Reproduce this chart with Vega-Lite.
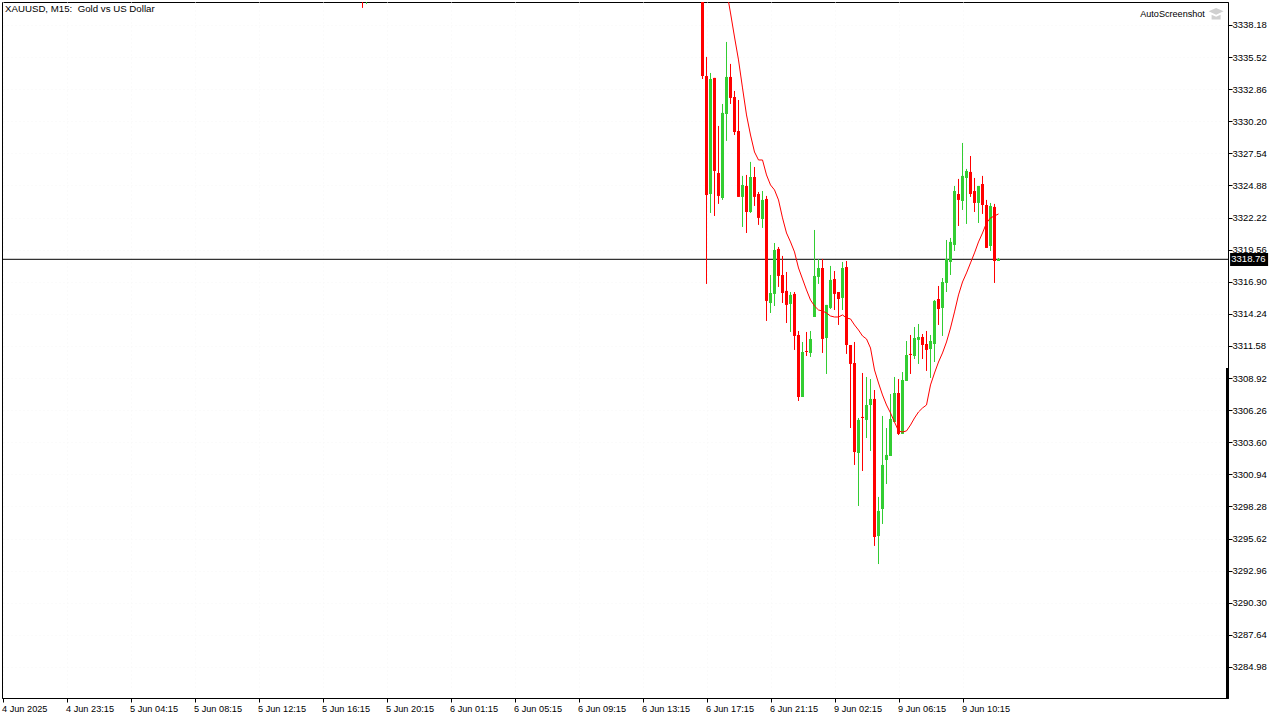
{
  "$schema": "https://vega.github.io/schema/vega-lite/v6.json",
  "width": 1226,
  "height": 696,
  "autosize": "none",
  "padding": {"left": 2, "top": 2, "right": 52, "bottom": 22},
  "background": "white",
  "config": {"view": {"stroke": "black", "strokeWidth": 1}, "font": "Liberation Sans"},
  "datasets": {
    "candles": [
      {"i":90,"open":3341.6,"high":3342,"low":3339.59,"close":3341.0},
      {"i":91,"open":3341.0,"high":3342,"low":3339.92,"close":3341.5},
      {"i":175,"open":3341.91,"high":3342.5,"low":3333.70,"close":3333.95},
      {"i":176,"open":3333.95,"high":3335.53,"low":3316.72,"close":3324.09},
      {"i":177,"open":3324.17,"high":3334.20,"low":3322.60,"close":3333.70},
      {"i":178,"open":3333.79,"high":3333.79,"low":3322.35,"close":3326.08},
      {"i":179,"open":3325.91,"high":3329.81,"low":3323.35,"close":3324.01},
      {"i":180,"open":3323.84,"high":3331.63,"low":3323.68,"close":3330.89},
      {"i":181,"open":3330.80,"high":3336.77,"low":3328.57,"close":3333.87},
      {"i":182,"open":3333.87,"high":3334.95,"low":3331.63,"close":3332.13},
      {"i":183,"open":3332.21,"high":3332.71,"low":3329.06,"close":3329.31},
      {"i":184,"open":3329.39,"high":3331.96,"low":3323.93,"close":3323.93},
      {"i":185,"open":3323.93,"high":3325.67,"low":3321.44,"close":3324.92},
      {"i":186,"open":3324.84,"high":3325.75,"low":3320.94,"close":3322.68},
      {"i":187,"open":3322.68,"high":3326.83,"low":3322.60,"close":3325.58},
      {"i":188,"open":3325.58,"high":3326.41,"low":3323.18,"close":3323.93},
      {"i":189,"open":3324.17,"high":3324.34,"low":3321.61,"close":3322.19},
      {"i":190,"open":3322.10,"high":3324.42,"low":3321.36,"close":3323.68},
      {"i":191,"open":3323.76,"high":3324.01,"low":3313.65,"close":3315.31},
      {"i":192,"open":3315.14,"high":3317.46,"low":3314.31,"close":3315.97},
      {"i":193,"open":3315.89,"high":3320.11,"low":3314.89,"close":3319.53},
      {"i":194,"open":3319.62,"high":3319.78,"low":3316.47,"close":3317.38},
      {"i":195,"open":3317.46,"high":3319.04,"low":3315.14,"close":3315.97},
      {"i":196,"open":3316.14,"high":3317.71,"low":3313.48,"close":3314.98},
      {"i":197,"open":3315.06,"high":3316.05,"low":3312.74,"close":3315.81},
      {"i":198,"open":3315.89,"high":3316.05,"low":3311.25,"close":3312.41},
      {"i":199,"open":3312.49,"high":3312.82,"low":3307.02,"close":3307.35},
      {"i":200,"open":3307.35,"high":3311.91,"low":3307.35,"close":3311.08},
      {"i":201,"open":3311.16,"high":3312.74,"low":3310.75,"close":3311.08},
      {"i":202,"open":3311.00,"high":3312.82,"low":3310.67,"close":3312.16},
      {"i":203,"open":3313.98,"high":3321.19,"low":3313.98,"close":3317.38},
      {"i":204,"open":3317.30,"high":3318.79,"low":3316.72,"close":3318.04},
      {"i":205,"open":3318.04,"high":3318.79,"low":3311.00,"close":3312.16},
      {"i":206,"open":3312.24,"high":3314.98,"low":3309.26,"close":3314.98},
      {"i":207,"open":3314.73,"high":3318.21,"low":3314.64,"close":3317.05},
      {"i":208,"open":3317.13,"high":3317.79,"low":3314.56,"close":3315.89},
      {"i":209,"open":3316.05,"high":3316.05,"low":3313.32,"close":3315.47},
      {"i":210,"open":3315.56,"high":3318.54,"low":3314.56,"close":3318.04},
      {"i":211,"open":3318.12,"high":3318.62,"low":3310.92,"close":3311.66},
      {"i":212,"open":3311.66,"high":3311.66,"low":3304.78,"close":3310.09},
      {"i":213,"open":3310.17,"high":3311.91,"low":3301.72,"close":3302.79},
      {"i":214,"open":3302.71,"high":3305.61,"low":3298.32,"close":3305.45},
      {"i":215,"open":3305.70,"high":3309.34,"low":3301.22,"close":3305.61},
      {"i":216,"open":3305.45,"high":3309.01,"low":3303.95,"close":3306.69},
      {"i":217,"open":3306.69,"high":3308.84,"low":3302.88,"close":3307.19},
      {"i":218,"open":3307.19,"high":3307.93,"low":3295.01,"close":3295.75},
      {"i":219,"open":3295.83,"high":3299.07,"low":3293.51,"close":3297.91},
      {"i":220,"open":3298.07,"high":3305.78,"low":3296.83,"close":3301.72},
      {"i":221,"open":3302.13,"high":3304.78,"low":3300.14,"close":3302.55},
      {"i":222,"open":3302.46,"high":3307.60,"low":3302.46,"close":3305.53},
      {"i":223,"open":3305.28,"high":3309.01,"low":3305.28,"close":3307.68},
      {"i":224,"open":3307.68,"high":3308.84,"low":3304.20,"close":3304.29},
      {"i":225,"open":3304.29,"high":3309.42,"low":3304.29,"close":3308.76},
      {"i":226,"open":3308.68,"high":3311.99,"low":3308.68,"close":3310.83},
      {"i":227,"open":3310.92,"high":3312.49,"low":3309.26,"close":3310.83},
      {"i":228,"open":3310.75,"high":3313.15,"low":3310.50,"close":3312.24},
      {"i":229,"open":3312.08,"high":3313.40,"low":3310.09,"close":3312.32},
      {"i":230,"open":3312.32,"high":3312.57,"low":3310.50,"close":3311.66},
      {"i":231,"open":3311.74,"high":3312.82,"low":3309.51,"close":3311.25},
      {"i":232,"open":3311.33,"high":3312.49,"low":3308.93,"close":3311.99},
      {"i":233,"open":3311.74,"high":3315.39,"low":3310.25,"close":3315.31},
      {"i":234,"open":3315.47,"high":3316.55,"low":3313.32,"close":3314.64},
      {"i":235,"open":3314.73,"high":3317.21,"low":3312.41,"close":3316.88},
      {"i":236,"open":3316.80,"high":3320.36,"low":3316.05,"close":3318.79},
      {"i":237,"open":3318.54,"high":3320.53,"low":3317.46,"close":3320.20},
      {"i":238,"open":3319.95,"high":3324.84,"low":3319.45,"close":3324.42},
      {"i":239,"open":3324.17,"high":3325.42,"low":3321.52,"close":3323.68},
      {"i":240,"open":3323.59,"high":3328.40,"low":3322.85,"close":3325.67},
      {"i":241,"open":3325.50,"high":3326.25,"low":3321.69,"close":3326.08},
      {"i":242,"open":3326.00,"high":3327.32,"low":3323.93,"close":3324.17},
      {"i":243,"open":3324.42,"high":3325.50,"low":3322.68,"close":3323.43},
      {"i":244,"open":3323.43,"high":3324.84,"low":3321.77,"close":3324.84},
      {"i":245,"open":3325.00,"high":3325.67,"low":3322.52,"close":3323.26},
      {"i":246,"open":3323.26,"high":3323.68,"low":3319.70,"close":3319.70},
      {"i":247,"open":3319.86,"high":3323.43,"low":3319.45,"close":3323.18},
      {"i":248,"open":3323.10,"high":3323.35,"low":3316.80,"close":3318.62},
      {"i":249,"open":3318.62,"high":3318.87,"low":3318.62,"close":3318.79}
    ],
    "ma": [
      {"i":181,"ma":3341.08},{"i":182,"ma":3339.17},{"i":183,"ma":3337.18},{"i":184,"ma":3335.28},
      {"i":185,"ma":3332.96},{"i":186,"ma":3330.72},{"i":187,"ma":3329.06},{"i":188,"ma":3327.65},
      {"i":189,"ma":3326.99},{"i":190,"ma":3326.99},{"i":191,"ma":3325.75},{"i":192,"ma":3324.92},
      {"i":193,"ma":3324.51},{"i":194,"ma":3323.68},{"i":195,"ma":3322.19},{"i":196,"ma":3320.94},
      {"i":197,"ma":3320.20},{"i":198,"ma":3319.37},{"i":199,"ma":3318.04},{"i":200,"ma":3317.13},
      {"i":201,"ma":3316.22},{"i":202,"ma":3315.39},{"i":203,"ma":3314.89},{"i":204,"ma":3314.56},
      {"i":205,"ma":3314.48},{"i":206,"ma":3314.31},{"i":207,"ma":3314.06},{"i":208,"ma":3313.98},
      {"i":209,"ma":3313.98},{"i":210,"ma":3314.15},{"i":211,"ma":3313.90},{"i":212,"ma":3313.82},
      {"i":213,"ma":3313.32},{"i":214,"ma":3312.90},{"i":215,"ma":3312.41},{"i":216,"ma":3312.16},
      {"i":217,"ma":3311.41},{"i":218,"ma":3309.59},{"i":219,"ma":3308.51},{"i":220,"ma":3307.52},
      {"i":221,"ma":3306.69},{"i":222,"ma":3306.03},{"i":223,"ma":3305.28},{"i":224,"ma":3304.54},
      {"i":225,"ma":3304.45},{"i":226,"ma":3304.54},{"i":227,"ma":3305.03},{"i":228,"ma":3305.61},
      {"i":229,"ma":3306.11},{"i":230,"ma":3306.44},{"i":231,"ma":3306.69},{"i":232,"ma":3308.35},
      {"i":233,"ma":3309.34},{"i":234,"ma":3310.25},{"i":235,"ma":3311.00},{"i":236,"ma":3311.91},
      {"i":237,"ma":3313.07},{"i":238,"ma":3314.40},{"i":239,"ma":3315.81},{"i":240,"ma":3316.88},
      {"i":241,"ma":3317.63},{"i":242,"ma":3318.46},{"i":243,"ma":3319.29},{"i":244,"ma":3320.20},
      {"i":245,"ma":3320.94},{"i":246,"ma":3321.77},{"i":247,"ma":3322.19},{"i":248,"ma":3322.35},
      {"i":249,"ma":3322.52}
    ]
  },
  "layer": [
    {
      "data": {"values": [{"price": 3318.76}]},
      "mark": {"type": "rule", "color": "black", "strokeWidth": 1},
      "encoding": {
        "y": {"field": "price", "type": "quantitative", "title": null, "scale": {"domain": [3282.41, 3340.08]}}
      }
    },
    {
      "data": {"name": "candles"},
      "mark": {"type": "rule", "strokeWidth": 1, "clip": true},
      "encoding": {
        "x": {
          "field": "i", "type": "quantitative", "title": null,
          "scale": {"domain": [-0.125, 306.375]},
          "axis": {
            "orient": "bottom",
            "values": [0,16,32,48,64,80,96,112,128,144,160,176,192,208,224,240],
            "tickCount": 40,
            "labelExpr": "['4 Jun 2025','4 Jun 23:15','5 Jun 04:15','5 Jun 08:15','5 Jun 12:15','5 Jun 16:15','5 Jun 20:15','6 Jun 01:15','6 Jun 05:15','6 Jun 09:15','6 Jun 13:15','6 Jun 17:15','6 Jun 21:15','9 Jun 02:15','9 Jun 06:15','9 Jun 10:15'][datum.value / 16]",
            "labelAlign": "left", "labelBaseline": "middle", "labelPadding": 6, "labelFontSize": 9.2, "labelOffset": -1,
            "labelColor": "black", "labelOverlap": false, "labelFlush": false, "labelBound": false,
            "tickSize": 4, "tickColor": "black", "domainColor": "black",
            "grid": true, "gridColor": "#f6f6f6", "gridDash": [1, 3]
          }
        },
        "y": {
          "field": "low", "type": "quantitative", "title": null,
          "scale": {"domain": [3282.41, 3340.08]},
          "axis": {
            "orient": "right",
            "values": [3338.18,3335.52,3332.86,3330.20,3327.54,3324.88,3322.22,3319.56,3316.90,3314.24,3311.58,3308.92,3306.26,3303.60,3300.94,3298.28,3295.62,3292.96,3290.30,3287.64,3284.98],
            "tickCount": 40,
            "format": ".2f",
            "labelAlign": "left", "labelPadding": 0, "labelFontSize": 9.5, "labelColor": "black",
            "labelOverlap": false, "labelFlush": false, "labelBound": false,
            "tickSize": 4, "tickColor": "black", "domainColor": "black",
            "grid": true, "gridColor": "#f6f6f6", "gridDash": [1, 3]
          }
        },
        "y2": {"field": "high"},
        "color": {"condition": {"test": "datum.close >= datum.open", "value": "#32cd32"}, "value": "#ff0000"}
      }
    },
    {
      "data": {"name": "candles"},
      "mark": {"type": "rule", "strokeWidth": 3, "clip": true},
      "encoding": {
        "x": {"field": "i", "type": "quantitative", "title": null, "scale": {"domain": [-0.125, 306.375]}},
        "y": {"field": "open", "type": "quantitative", "title": null, "scale": {"domain": [3282.41, 3340.08]}},
        "y2": {"field": "close"},
        "color": {"condition": {"test": "datum.close >= datum.open", "value": "#32cd32"}, "value": "#ff0000"}
      }
    },
    {
      "data": {"name": "ma"},
      "mark": {"type": "line", "color": "#ff0000", "strokeWidth": 1, "clip": true},
      "encoding": {
        "x": {"field": "i", "type": "quantitative", "title": null, "scale": {"domain": [-0.125, 306.375]}},
        "y": {"field": "ma", "type": "quantitative", "title": null, "scale": {"domain": [3282.41, 3340.08]}}
      }
    },
    {
      "data": {"values": [{"i": 306.25, "top": 3309.75, "bottom": 3282.41}]},
      "mark": {"type": "rule", "color": "black", "strokeWidth": 3},
      "encoding": {
        "x": {"field": "i", "type": "quantitative", "title": null, "scale": {"domain": [-0.125, 306.375]}},
        "y": {"field": "top", "type": "quantitative", "title": null, "scale": {"domain": [3282.41, 3340.08]}},
        "y2": {"field": "bottom"}
      }
    },
    {
      "data": {"values": [{"a": 306.9, "b": 316.4, "top": 3319.29, "bottom": 3318.21}]},
      "mark": {"type": "rect", "color": "black"},
      "encoding": {
        "x": {"field": "a", "type": "quantitative", "title": null, "scale": {"domain": [-0.125, 306.375]}},
        "x2": {"field": "b"},
        "y": {"field": "top", "type": "quantitative", "title": null, "scale": {"domain": [3282.41, 3340.08]}},
        "y2": {"field": "bottom"}
      }
    },
    {
      "data": {"values": [{"i": 307.2, "price": 3318.76, "label": "3318.76"}]},
      "mark": {"type": "text", "align": "left", "baseline": "middle", "color": "white", "fontSize": 9.5},
      "encoding": {
        "x": {"field": "i", "type": "quantitative", "title": null, "scale": {"domain": [-0.125, 306.375]}},
        "y": {"field": "price", "type": "quantitative", "title": null, "scale": {"domain": [3282.41, 3340.08]}},
        "text": {"field": "label"}
      }
    },
    {
      "data": {"values": [{"i": 0.625, "price": 3339.50, "label": "XAUUSD, M15:\u00a0 Gold vs US Dollar"}]},
      "mark": {"type": "text", "align": "left", "baseline": "middle", "color": "black", "fontSize": 9.7},
      "encoding": {
        "x": {"field": "i", "type": "quantitative", "title": null, "scale": {"domain": [-0.125, 306.375]}},
        "y": {"field": "price", "type": "quantitative", "title": null, "scale": {"domain": [3282.41, 3340.08]}},
        "text": {"field": "label"}
      }
    },
    {
      "data": {"values": [{"i": 300.6, "price": 3339.09, "label": "AutoScreenshot"}]},
      "mark": {"type": "text", "align": "right", "baseline": "middle", "color": "black", "fontSize": 9.1},
      "encoding": {
        "x": {"field": "i", "type": "quantitative", "title": null, "scale": {"domain": [-0.125, 306.375]}},
        "y": {"field": "price", "type": "quantitative", "title": null, "scale": {"domain": [3282.41, 3340.08]}},
        "text": {"field": "label"}
      }
    },
    {
      "data": {"values": [{"i": 303.4, "price": 3339.09}]},
      "mark": {
        "type": "point", "filled": true, "color": "#d0d0d0", "size": 225, "opacity": 1,
        "shape": "M-1,-0.35 L0,-0.8 L1,-0.35 L0,0.1 Z M-0.6,0.1 L-0.6,0.75 L0.6,0.75 L0.6,0.1 L0,0.38 Z"
      },
      "encoding": {
        "x": {"field": "i", "type": "quantitative", "title": null, "scale": {"domain": [-0.125, 306.375]}},
        "y": {"field": "price", "type": "quantitative", "title": null, "scale": {"domain": [3282.41, 3340.08]}}
      }
    }
  ]
}
